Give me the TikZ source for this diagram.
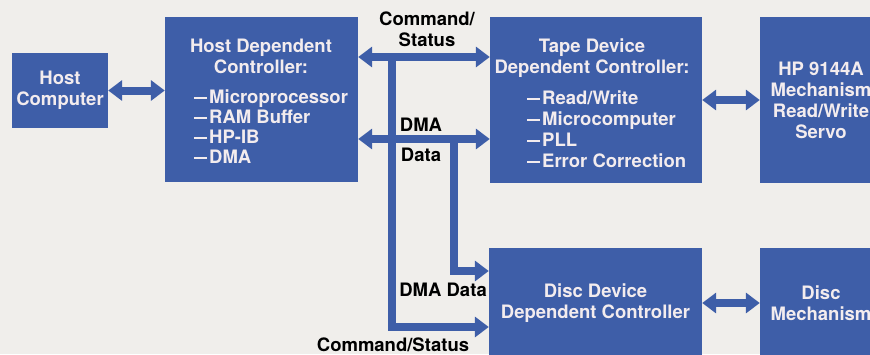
\documentclass[tikz,border=0pt]{standalone}
\usepackage{fontspec}
\setmainfont{TeX Gyre Heros}
\usetikzlibrary{arrows.meta}
\definecolor{hpblue}{RGB}{62,94,168}
\definecolor{paper}{RGB}{240,238,235}
\definecolor{boxtext}{RGB}{243,236,238}
\newcommand\ldash{\rule[4.8pt]{13pt}{2.4pt}\hspace{2pt}}
\begin{document}
\begin{tikzpicture}[x=1pt, y=-1pt,
		blk/.style={fill=hpblue, inner sep=0pt, text=boxtext, align=center,
			font=\fontsize{18.5}{21}\selectfont\bfseries},
		intext/.style={text=boxtext, inner sep=0pt, align=center,
			font=\fontsize{18.5}{21}\selectfont\bfseries},
		lbl/.style={text=black, inner sep=0pt, align=center,
			font=\fontsize{18.5}{21}\selectfont\bfseries},
		bus/.style={draw=hpblue, line width=8pt, line join=miter},
		both/.style={{Triangle[width=20pt,length=14pt]}-{Triangle[width=20pt,length=14pt]}},
		one/.style={-{Triangle[width=20pt,length=14pt]}}]
		\useasboundingbox (0,0) rectangle (870,354);
		\clip (0,0) rectangle (870,354);
		\fill[paper] (0,0) rectangle (870,354);
		% blocks
		\node[blk, minimum width=96pt, minimum height=75pt] (host) at (60,90.5) {Host\\Computer};
		\node[blk, minimum width=193pt, minimum height=165pt] (hdc) at (261.5,99.5) {};
		\node[blk, minimum width=212pt, minimum height=166pt] (tape) at (596,100) {};
		\node[blk, minimum width=122pt, minimum height=166pt] (hpmech) at (821,100) {HP 9144A\\Mechanism\\Read/Write\\Servo};
		\node[blk, minimum width=213pt, minimum height=110pt] (disc) at (595.5,303) {Disc Device\\Dependent Controller};
		\node[blk, minimum width=122pt, minimum height=110pt] (dmech) at (821,303) {Disc\\Mechanism};
		% block texts
		\node[intext] (hdctitle) at (261,56) {Host Dependent\\Controller:};
		\node[intext, align=left, anchor=north west, font=\fontsize{18.5}{20}\selectfont\bfseries] (hdclist) at (194,90)
			{\ldash Microprocessor\\\ldash RAM Buffer\\\ldash HP-IB\\\ldash DMA};
		\node[intext] (tapetitle) at (592,58) {Tape Device\\Dependent Controller:};
		\node[intext, align=left, anchor=north west] (tapelist) at (527,91)
			{\ldash Read/Write\\\ldash Microcomputer\\\ldash PLL\\\ldash Error Correction};
		% bus points
		\coordinate (ycmd) at (0,57);
		\coordinate (ydma) at (0,139);
		\coordinate (xcmd) at (392,0);
		\coordinate (xdma) at (454,0);
		\coordinate (ydd) at (0,271);
		\coordinate (ydc) at (0,327);
		\draw[bus, one] (xcmd |- ycmd) |- (disc.west |- ydc);
		\draw[bus, one] (xdma |- ydma) |- (disc.west |- ydd);
		\foreach \y in {ycmd, ydma}{
			\draw[bus, both] (hdc.east |- \y) -- (tape.west |- \y);
		}
		\draw[bus, both] (host.east) -- (host.east -| hdc.west);
		\draw[bus, both] (tape.east) -- (hpmech.west);
		\draw[bus, both] (disc.east) -- (dmech.west);
		% bus labels
		\node[lbl] (cmdlbl) at (427,29) {Command/\\Status};
		\node[lbl] (dmalbl) at (421,125) {DMA};
		\node[lbl] (datalbl) at (421,155) {Data};
		\node[lbl, anchor=east] (dmadata) at (487,290) {DMA Data};
		\node[lbl] (cmdstat) at (393,345) {Command/Status};
	\end{tikzpicture}
\end{document}
